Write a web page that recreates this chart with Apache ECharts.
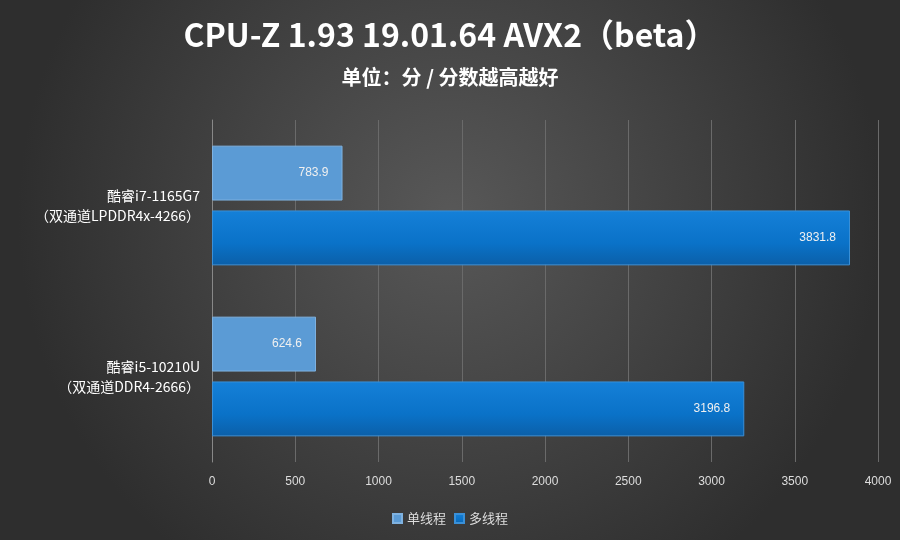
<!DOCTYPE html>
<html><head><meta charset="utf-8">
<script src="https://cdn.jsdelivr.net/npm/echarts@6/dist/echarts.min.js"></script>
<style>html,body{margin:0;padding:0;}#c{width:900px;height:540px;}</style>
</head><body><div id="c"></div>
<script>
const categories = ['酷睿i7-1165G7\n（双通道LPDDR4x-4266）', '酷睿i5-10210U\n（双通道DDR4-2666）'];
const singleThread = [783.9, 624.6];
const multiThread = [3831.8, 3196.8];
const seriesNames = ['单线程', '多线程'];

const chart = echarts.init(document.getElementById('c'));
chart.setOption({
  backgroundColor: {type:'radial', x:0.5, y:0.4, r:0.8, colorStops:[{offset:0,color:'#585858'},{offset:1,color:'#2e2e2e'}]},
  title: [
    {text:'CPU-Z 1.93 19.01.64 AVX2（beta）', left:'center', top:14, textStyle:{color:'#fff', fontSize:32, fontWeight:'bold', fontFamily:'Noto Sans CJK SC'}},
    {text:'单位：分 / 分数越高越好', left:'center', top:62, textStyle:{color:'#fff', fontSize:20, fontWeight:'bold', fontFamily:'Noto Sans CJK SC'}}
  ],
  legend: {bottom:10, left:'center', itemWidth:9, itemHeight:9, itemGap:8, icon:'rect', textStyle:{color:'#ddd', fontSize:13, fontFamily:'Noto Sans CJK SC'}, data:seriesNames},
  grid: {left:212, right:22, top:120, bottom:78},
  xAxis: {type:'value', min:0, max:4000, interval:500,
    axisLabel:{color:'#ddd', fontSize:12, margin:14, formatter:v=>String(v)},
    axisLine:{show:false}, axisTick:{show:false},
    splitLine:{lineStyle:{color:'#6a6a6a'}}},
  yAxis: {type:'category', data:categories, inverse:true,
    axisLabel:{color:'#fff', fontSize:14, lineHeight:20, fontFamily:'Noto Sans CJK SC', margin:12},
    axisLine:{lineStyle:{color:'#888'}}, axisTick:{show:false}},
  series: [
    {name:seriesNames[0], type:'bar', data:singleThread, barGap:'18%', barCategoryGap:'30%',
     itemStyle:{color:'#5b9bd5', borderColor:'#7fb2e0', borderWidth:1},
     label:{show:true, position:'insideRight', color:'#f0f0f0', fontSize:12, distance:14}},
    {name:seriesNames[1], type:'bar', data:multiThread,
     itemStyle:{color:{type:'linear',x:0,y:0,x2:0,y2:1,colorStops:[{offset:0,color:'#1580d8'},{offset:0.6,color:'#0a72c8'},{offset:1,color:'#0b5fa8'}]}, borderColor:'#3a90d8', borderWidth:1},
     label:{show:true, position:'insideRight', color:'#f0f0f0', fontSize:12, distance:14}}
  ]
});
</script></body></html>
